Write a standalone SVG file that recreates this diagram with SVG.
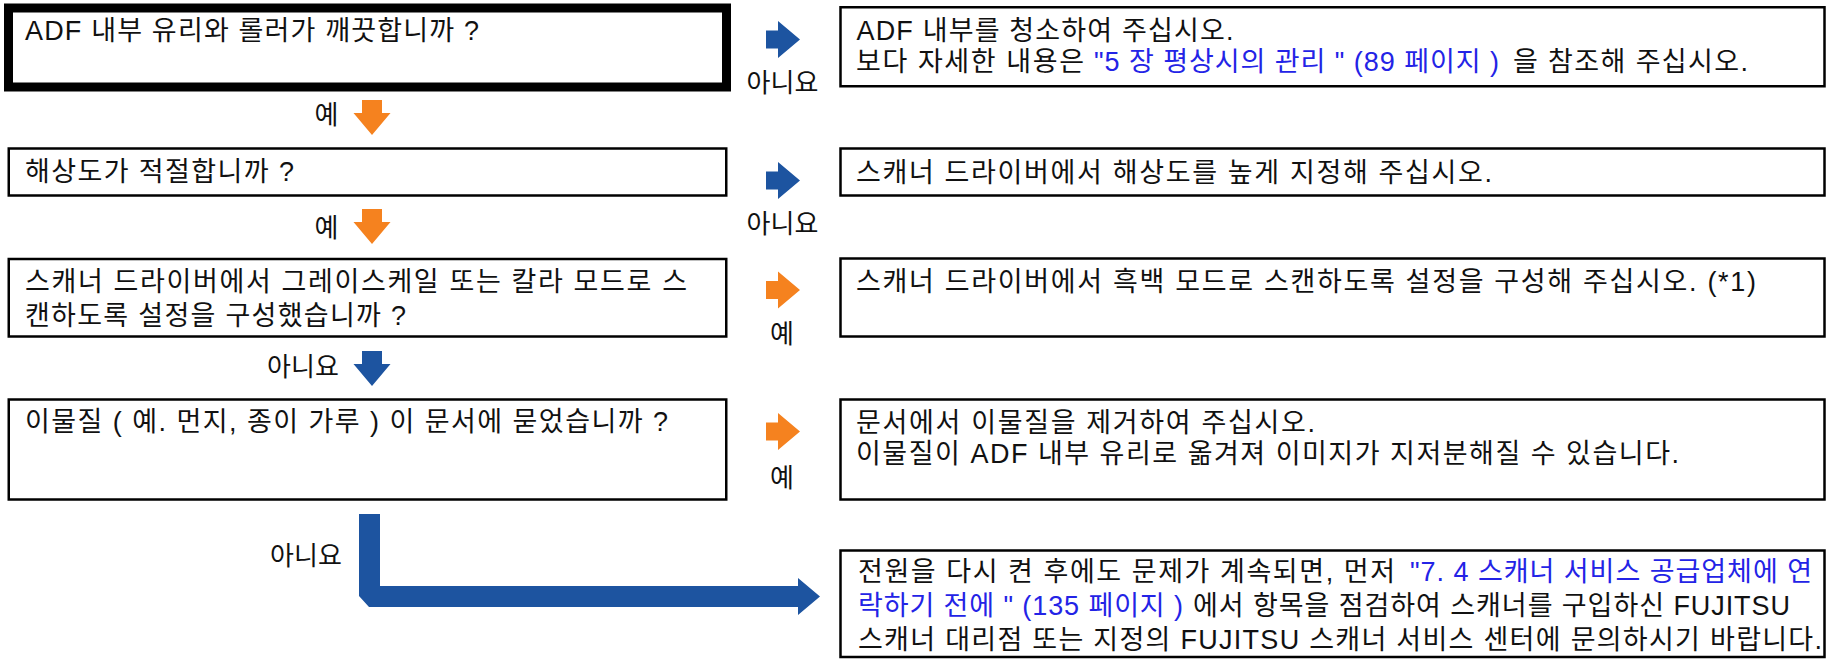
<svg xmlns="http://www.w3.org/2000/svg" width="1827" height="660" viewBox="0 0 1827 660">
<style>
  text { font-family: "Liberation Sans", "Noto Sans CJK KR", sans-serif; font-size: 27px; fill: #111; }
  .lnk { fill: #2323e6; }
  .box { fill: #fff; stroke: #000; stroke-width: 2.5; }
  .bold { fill: #fff; stroke: #000; stroke-width: 9; }
  .lbl { text-anchor: middle; font-size: 26px; }
  .org { fill: #f5821f; }
  .blu { fill: #1d54a0; }
</style>
<defs>
  <polygon id="ar" points="0,-9 12,-9 12,-18.5 34,0 12,18.5 12,9 0,9"/>
  <polygon id="ad" points="-10,0 10,0 10,13 18.5,13 0,35 -18.5,13 -10,13"/>
</defs>
<rect width="1827" height="660" fill="#fff"/>

<g id="connectors">
  <use href="#ar" x="766" y="39.5" class="blu"/>
  <use href="#ar" x="766" y="180.5" class="blu"/>
  <use href="#ar" x="766" y="290" class="org"/>
  <use href="#ar" x="766" y="431.5" class="org"/>
  <use href="#ad" x="372" y="100" class="org"/>
  <use href="#ad" x="372" y="209" class="org"/>
  <use href="#ad" x="372" y="351" class="blu"/>
  <polygon class="blu" points="359,514 380,514 380,586 798,586 798,578 820,596.5 798,615 798,607 369,607 359,596"/>
  <text class="lbl" x="782.5" y="92">아니요</text>
  <text class="lbl" x="782.5" y="233">아니요</text>
  <text class="lbl" x="782" y="343">예</text>
  <text class="lbl" x="782" y="487">예</text>
  <text class="lbl" x="326.5" y="124">예</text>
  <text class="lbl" x="326.5" y="237">예</text>
  <text class="lbl" x="303" y="376">아니요</text>
  <text class="lbl" x="306" y="565">아니요</text>
</g>

<g id="q1">
  <rect class="bold" x="8.5" y="8" width="718" height="79"/>
  <text x="25" y="40" textLength="454" lengthAdjust="spacing">ADF 내부 유리와 롤러가 깨끗합니까 ?</text>
</g>
<g id="a1">
  <rect class="box" x="840.5" y="7.25" width="984" height="79"/>
  <text x="856.5" y="40" textLength="377" lengthAdjust="spacing">ADF 내부를 청소하여 주십시오.</text>
  <text y="71"><tspan x="856" textLength="228" lengthAdjust="spacing">보다 자세한 내용은</tspan><tspan class="lnk" x="1094" textLength="405" lengthAdjust="spacing">"5 장 평상시의 관리 " (89 페이지 )</tspan><tspan x="1513" textLength="235" lengthAdjust="spacing">을 참조해 주십시오.</tspan></text>
</g>

<g id="q2">
  <rect class="box" x="8.75" y="148.5" width="717.5" height="47"/>
  <text x="25" y="181" textLength="269" lengthAdjust="spacing">해상도가 적절합니까 ?</text>
</g>
<g id="a2">
  <rect class="box" x="840.5" y="148.5" width="984" height="47"/>
  <text x="856" y="182" textLength="636" lengthAdjust="spacing">스캐너 드라이버에서 해상도를 높게 지정해 주십시오.</text>
</g>

<g id="q3">
  <rect class="box" x="8.75" y="259" width="717.5" height="77.5"/>
  <text x="25" y="291" textLength="662" lengthAdjust="spacing">스캐너 드라이버에서 그레이스케일 또는 칼라 모드로 스</text>
  <text x="25" y="325" textLength="381" lengthAdjust="spacing">캔하도록 설정을 구성했습니까 ?</text>
</g>
<g id="a3">
  <rect class="box" x="840.5" y="258.5" width="984" height="78"/>
  <text x="856" y="291" textLength="900" lengthAdjust="spacing">스캐너 드라이버에서 흑백 모드로 스캔하도록 설정을 구성해 주십시오. (*1)</text>
</g>

<g id="q4">
  <rect class="box" x="8.75" y="399.5" width="717.5" height="100"/>
  <text x="25" y="431" textLength="643" lengthAdjust="spacing">이물질 ( 예. 먼지, 종이 가루 ) 이 문서에 묻었습니까 ?</text>
</g>
<g id="a4">
  <rect class="box" x="840.5" y="399.5" width="984" height="100"/>
  <text x="856" y="432" textLength="459" lengthAdjust="spacing">문서에서 이물질을 제거하여 주십시오.</text>
  <text x="856" y="463" textLength="823" lengthAdjust="spacing">이물질이 ADF 내부 유리로 옮겨져 이미지가 지저분해질 수 있습니다.</text>
</g>

<g id="a5">
  <rect class="box" x="840.5" y="550.5" width="984" height="106.5"/>
  <text y="581"><tspan x="858" textLength="537" lengthAdjust="spacing">전원을 다시 켠 후에도 문제가 계속되면, 먼저</tspan><tspan class="lnk" x="1410" textLength="402" lengthAdjust="spacing">"7. 4 스캐너 서비스 공급업체에 연</tspan></text>
  <text y="615"><tspan class="lnk" x="858" textLength="325" lengthAdjust="spacing">락하기 전에 " (135 페이지 )</tspan><tspan x="1193" textLength="597" lengthAdjust="spacing">에서 항목을 점검하여 스캐너를 구입하신 FUJITSU</tspan></text>
  <text x="858" y="649" textLength="964" lengthAdjust="spacing">스캐너 대리점 또는 지정의 FUJITSU 스캐너 서비스 센터에 문의하시기 바랍니다.</text>
</g>
</svg>
